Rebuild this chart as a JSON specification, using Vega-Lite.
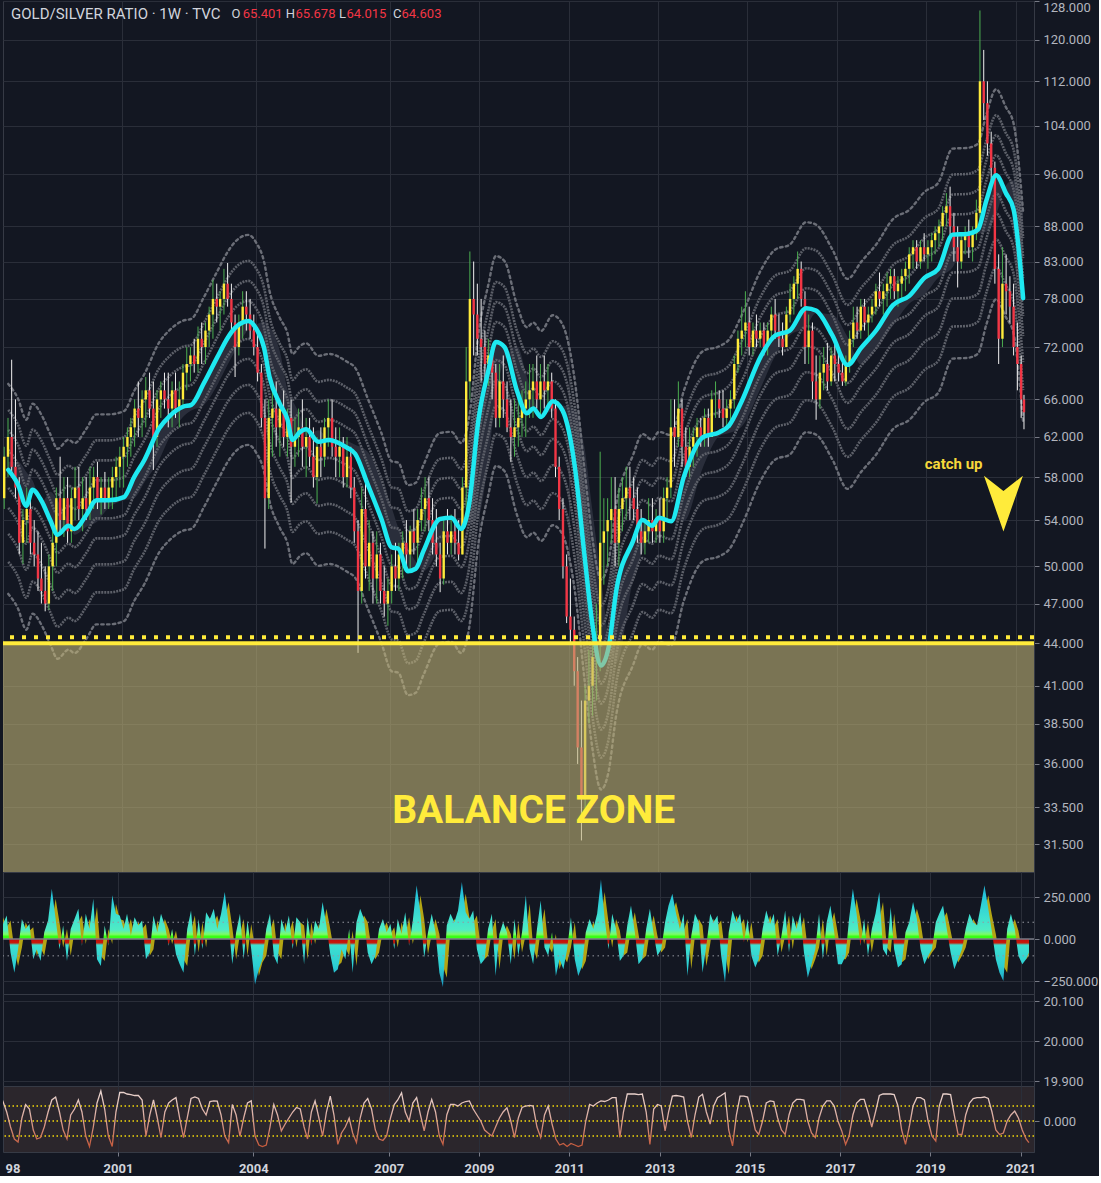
{
  "$schema": "https://vega.github.io/schema/vega-lite/v6.json",
  "description": "Gold/Silver ratio weekly chart with moving average envelope, balance zone and two oscillator panes.",
  "background": "#131722",
  "padding": 0,
  "spacing": 0,
  "bounds": "flush",
  "config": {
    "view": {"stroke": "#363a45"},
    "axis": {"labelColor": "#b2b5be", "labelFont": "Roboto", "labelFontSize": 13, "gridColor": "#2a2e39", "domainColor": "#363a45", "tickColor": "#787b86", "tickSize": 5, "labelPadding": 4},
    "text": {"font": "Roboto"}
  },
  "resolve": {"scale": {"x": "independent", "y": "independent"}},
  "datasets": {
    "one": [{}],
    "ma": [
      {"d":"1998-06-17","m":58.7,"s":59.5},{"d":"1998-09-04","m":57.3,"s":59.5},{"d":"1998-11-12","m":55.3,"s":58.5},
      {"d":"1999-01-01","m":56.8,"s":57.7},{"d":"1999-03-18","m":55.7,"s":55.6},{"d":"1999-05-26","m":54.0,"s":56.6},
      {"d":"1999-07-25","m":52.7,"s":55.8},{"d":"1999-10-22","m":53.5,"s":53.8},{"d":"1999-12-11","m":53.2,"s":52.7},
      {"d":"2000-03-18","m":54.5,"s":53.4},{"d":"2000-06-06","m":55.8,"s":53.8},{"d":"2000-09-14","m":55.8,"s":55.1},
      {"d":"2001-01-18","m":56.1,"s":55.8},{"d":"2001-04-11","m":58.0,"s":56.0},{"d":"2001-07-05","m":59.7,"s":57.5},
      {"d":"2001-11-02","m":62.9,"s":59.7},{"d":"2002-01-26","m":64.2,"s":62.0},{"d":"2002-05-15","m":65.2,"s":64.1},
      {"d":"2002-07-22","m":65.4,"s":64.8},{"d":"2002-11-02","m":67.8,"s":65.4},{"d":"2003-02-20","m":70.8,"s":67.6},
      {"d":"2003-05-15","m":73.1,"s":69.9},{"d":"2003-07-13","m":74.3,"s":71.5},{"d":"2003-11-02","m":75.2,"s":74.1},
      {"d":"2004-01-01","m":74.3,"s":74.7},{"d":"2004-03-08","m":71.9,"s":75.1},{"d":"2004-04-20","m":68.6,"s":74.5},
      {"d":"2004-07-15","m":65.5,"s":71.5},{"d":"2004-09-14","m":63.9,"s":67.2},{"d":"2004-10-26","m":61.7,"s":65.9},
      {"d":"2004-12-25","m":62.5,"s":64.3},{"d":"2005-02-15","m":62.8,"s":62.1},{"d":"2005-05-26","m":61.5,"s":62.7},
      {"d":"2005-08-21","m":61.7,"s":61.8},{"d":"2006-01-15","m":60.9,"s":61.6},{"d":"2006-03-22","m":60.3,"s":61.2},
      {"d":"2006-07-03","m":57.3,"s":60.5},{"d":"2006-10-23","m":54.1,"s":57.6},{"d":"2007-01-16","m":51.6,"s":55.1},
      {"d":"2007-03-10","m":51.5,"s":53.3},{"d":"2007-05-28","m":49.6,"s":51.6},{"d":"2007-07-30","m":49.8,"s":50.4},
      {"d":"2007-10-02","m":51.3,"s":49.6},{"d":"2008-02-14","m":54.1,"s":51.8},{"d":"2008-05-18","m":54.2,"s":53.9},
      {"d":"2008-08-05","m":53.2,"s":54.2},{"d":"2008-10-08","m":55.4,"s":53.7},{"d":"2008-12-25","m":63.9,"s":54.3},
      {"d":"2009-03-13","m":69.1,"s":59.5},{"d":"2009-05-15","m":72.6,"s":66.4},{"d":"2009-07-25","m":72.0,"s":70.4},
      {"d":"2009-11-05","m":66.9,"s":72.1},{"d":"2010-01-24","m":64.5,"s":68.5},{"d":"2010-03-17","m":65.0,"s":66.2},
      {"d":"2010-05-20","m":64.1,"s":64.5},{"d":"2010-08-23","m":65.8,"s":64.7},{"d":"2010-11-11","m":64.8,"s":65.3},
      {"d":"2011-02-21","m":58.9,"s":64.9},{"d":"2011-05-09","m":51.0,"s":61.0},{"d":"2011-07-12","m":45.5,"s":55.0},
      {"d":"2011-09-22","m":42.4,"s":49.0},{"d":"2011-11-23","m":43.7,"s":44.3},{"d":"2012-01-26","m":48.1,"s":42.6},
      {"d":"2012-06-08","m":52.1,"s":48.8},{"d":"2012-08-26","m":54.0,"s":51.2},{"d":"2012-11-13","m":53.5,"s":53.2},
      {"d":"2013-01-07","m":54.2,"s":53.8},{"d":"2013-04-18","m":53.9,"s":54.1},{"d":"2013-07-29","m":58.0,"s":53.9},
      {"d":"2014-01-04","m":62.0,"s":59.0},{"d":"2014-05-17","m":62.5,"s":62.1},{"d":"2014-08-04","m":63.2,"s":62.4},
      {"d":"2014-11-15","m":65.8,"s":63.1},{"d":"2015-04-20","m":70.9,"s":67.3},{"d":"2015-08-17","m":73.4,"s":71.0},
      {"d":"2015-12-13","m":74.0,"s":73.4},{"d":"2016-04-25","m":76.8,"s":74.5},{"d":"2016-07-14","m":76.5,"s":76.2},
      {"d":"2016-11-25","m":73.4,"s":76.0},{"d":"2017-03-29","m":69.9,"s":73.2},{"d":"2017-07-18","m":71.9,"s":69.9},
      {"d":"2017-11-22","m":74.1,"s":71.9},{"d":"2018-04-04","m":77.2,"s":74.6},{"d":"2018-08-16","m":78.4,"s":77.4},
      {"d":"2018-12-20","m":80.8,"s":78.6},{"d":"2019-04-09","m":82.0,"s":80.8},{"d":"2019-08-05","m":86.8,"s":82.2},
      {"d":"2019-12-02","m":86.9,"s":86.8},{"d":"2020-02-27","m":87.5,"s":86.9},{"d":"2020-05-07","m":91.9,"s":87.2},
      {"d":"2020-07-25","m":95.8,"s":89.7},{"d":"2020-10-13","m":93.0,"s":94.2},{"d":"2020-12-15","m":90.5,"s":95.0},
      {"d":"2021-03-03","m":78.1,"s":91.7}
    ],
    "bars": [
      {"d":"1998-01-15","o":56,"h":58,"l":54,"c":57,"w":-180,"k":-100,"r":-0.6},
      {"d":"1998-02-15","o":57,"h":59,"l":54,"c":55,"w":120,"k":-140,"r":-0.3},
      {"d":"1998-03-15","o":55,"h":58,"l":53.5,"c":57,"w":150,"k":100,"r":0.2},
      {"d":"1998-04-15","o":57,"h":60,"l":55,"c":56,"w":60,"k":120,"r":0.6},
      {"d":"1998-05-15","o":56,"h":61,"l":55,"c":60,"w":160,"k":50,"r":0.5},
      {"d":"1998-06-15","o":60,"h":64,"l":58,"c":62,"w":90,"k":130,"r":0.65},
      {"d":"1998-07-15","o":62,"h":70.5,"l":58,"c":59,"w":140,"k":70,"r":0.3},
      {"d":"1998-08-15","o":59,"h":66,"l":56,"c":57,"w":-80,"k":110,"r":-0.2},
      {"d":"1998-09-15","o":57,"h":58,"l":51,"c":52,"w":-200,"k":-60,"r":-0.6},
      {"d":"1998-10-15","o":52,"h":55,"l":50.2,"c":54,"w":-60,"k":-160,"r":-0.7},
      {"d":"1998-11-15","o":54,"h":57,"l":52,"c":55,"w":120,"k":-50,"r":0.1},
      {"d":"1998-12-15","o":55,"h":56,"l":51,"c":52,"w":60,"k":100,"r":0.55},
      {"d":"1999-01-15","o":52,"h":54,"l":50,"c":51,"w":90,"k":50,"r":0.4},
      {"d":"1999-02-15","o":51,"h":53,"l":48,"c":49,"w":-120,"k":70,"r":-0.3},
      {"d":"1999-03-15","o":49,"h":52,"l":47,"c":48,"w":-60,"k":-100,"r":-0.6},
      {"d":"1999-04-15","o":48,"h":50,"l":46.4,"c":47,"w":-130,"k":-50,"r":-0.55},
      {"d":"1999-05-15","o":47,"h":51,"l":46.5,"c":50,"w":40,"k":-100,"r":-0.2},
      {"d":"1999-06-15","o":50,"h":53,"l":48,"c":52,"w":110,"k":30,"r":0.3},
      {"d":"1999-07-15","o":52,"h":57,"l":50,"c":56,"w":300,"k":90,"r":0.7},
      {"d":"1999-08-15","o":56,"h":60,"l":53,"c":54,"w":120,"k":240,"r":0.8},
      {"d":"1999-09-15","o":54,"h":58,"l":52.5,"c":56,"w":-60,"k":100,"r":0.3},
      {"d":"1999-10-15","o":56,"h":58,"l":52,"c":53,"w":80,"k":-50,"r":-0.3},
      {"d":"1999-11-15","o":53,"h":57,"l":52,"c":56,"w":-130,"k":60,"r":-0.6},
      {"d":"1999-12-15","o":56,"h":59,"l":54,"c":57,"w":60,"k":-100,"r":0.2},
      {"d":"2000-01-15","o":57,"h":59,"l":54,"c":55,"w":120,"k":50,"r":0.4},
      {"d":"2000-02-15","o":55,"h":58,"l":53,"c":56,"w":180,"k":100,"r":0.7},
      {"d":"2000-03-15","o":56,"h":58,"l":54,"c":55,"w":-40,"k":140,"r":0.3},
      {"d":"2000-04-15","o":55,"h":59,"l":54,"c":57,"w":150,"k":-30,"r":-0.5},
      {"d":"2000-05-15","o":57,"h":59,"l":55,"c":58,"w":60,"k":120,"r":-0.85},
      {"d":"2000-06-15","o":58,"h":59.5,"l":55,"c":56,"w":240,"k":50,"r":-0.2},
      {"d":"2000-07-15","o":56,"h":58,"l":54.5,"c":57,"w":-120,"k":190,"r":0.6},
      {"d":"2000-08-15","o":57,"h":58.5,"l":55,"c":56,"w":-160,"k":-100,"r":1.0},
      {"d":"2000-09-15","o":56,"h":58,"l":55,"c":57,"w":80,"k":-130,"r":0.4},
      {"d":"2000-10-15","o":57,"h":59,"l":55,"c":58,"w":-40,"k":60,"r":-0.5},
      {"d":"2000-11-15","o":58,"h":60,"l":56,"c":59,"w":260,"k":-30,"r":-0.85},
      {"d":"2000-12-15","o":59,"h":61,"l":57,"c":60,"w":150,"k":210,"r":0.3},
      {"d":"2001-01-15","o":60,"h":62,"l":57,"c":61,"w":140,"k":120,"r":0.95},
      {"d":"2001-02-15","o":61,"h":63,"l":59,"c":62,"w":60,"k":110,"r":0.95},
      {"d":"2001-03-15","o":62,"h":64,"l":60,"c":63,"w":150,"k":50,"r":0.9},
      {"d":"2001-04-15","o":63,"h":66,"l":61,"c":65,"w":20,"k":120,"r":0.88},
      {"d":"2001-05-15","o":65,"h":68,"l":62,"c":64,"w":130,"k":20,"r":0.85},
      {"d":"2001-06-15","o":64,"h":67,"l":62,"c":66,"w":80,"k":100,"r":0.85},
      {"d":"2001-07-15","o":66,"h":68.5,"l":63,"c":67,"w":110,"k":60,"r":0.7},
      {"d":"2001-08-15","o":67,"h":69,"l":64,"c":65,"w":-120,"k":90,"r":-0.5},
      {"d":"2001-09-15","o":65,"h":68,"l":58.7,"c":62,"w":-80,"k":-100,"r":0.2},
      {"d":"2001-10-15","o":62,"h":67,"l":61,"c":66,"w":140,"k":-60,"r":0.7},
      {"d":"2001-11-15","o":66,"h":68,"l":64,"c":67,"w":40,"k":110,"r":0.1},
      {"d":"2001-12-15","o":67,"h":69,"l":65,"c":66,"w":150,"k":30,"r":-0.55},
      {"d":"2002-01-15","o":66,"h":69,"l":63,"c":65,"w":80,"k":120,"r":0.3},
      {"d":"2002-02-15","o":65,"h":68,"l":63,"c":67,"w":-40,"k":60,"r":0.6},
      {"d":"2002-03-15","o":67,"h":69,"l":64,"c":65,"w":60,"k":-30,"r":0.7},
      {"d":"2002-04-15","o":65,"h":68,"l":63,"c":66,"w":-90,"k":50,"r":0.78},
      {"d":"2002-05-15","o":66,"h":70,"l":65,"c":69,"w":-150,"k":-70,"r":0.1},
      {"d":"2002-06-15","o":69,"h":72,"l":67,"c":70,"w":-200,"k":-120,"r":-0.55},
      {"d":"2002-07-15","o":70,"h":72,"l":68,"c":71,"w":60,"k":-160,"r":0.1},
      {"d":"2002-08-15","o":71,"h":73,"l":69,"c":70,"w":170,"k":50,"r":0.75},
      {"d":"2002-09-15","o":70,"h":74.5,"l":69,"c":73,"w":-100,"k":140,"r":0.8},
      {"d":"2002-10-15","o":73,"h":75,"l":70,"c":72,"w":120,"k":-80,"r":0.75},
      {"d":"2002-11-15","o":72,"h":75,"l":70,"c":74,"w":-60,"k":100,"r":0.4},
      {"d":"2002-12-15","o":74,"h":77,"l":72,"c":76,"w":160,"k":-50,"r":0.2},
      {"d":"2003-01-15","o":76,"h":80.5,"l":73,"c":78,"w":120,"k":130,"r":0.65},
      {"d":"2003-02-15","o":78,"h":80,"l":75,"c":77,"w":180,"k":100,"r":0.67},
      {"d":"2003-03-15","o":77,"h":79,"l":74,"c":78,"w":60,"k":140,"r":0.66},
      {"d":"2003-04-15","o":78,"h":82,"l":76,"c":80,"w":150,"k":50,"r":0.2},
      {"d":"2003-05-15","o":80,"h":82.8,"l":77,"c":78,"w":280,"k":120,"r":-0.5},
      {"d":"2003-06-15","o":78,"h":80,"l":74,"c":75,"w":90,"k":220,"r":-0.72},
      {"d":"2003-07-15","o":75,"h":76,"l":68.5,"c":72,"w":-150,"k":70,"r":0.55},
      {"d":"2003-08-15","o":72,"h":76,"l":71,"c":75,"w":40,"k":-120,"r":0.2},
      {"d":"2003-09-15","o":75,"h":79,"l":73,"c":77,"w":150,"k":30,"r":-0.5},
      {"d":"2003-10-15","o":77,"h":79,"l":74,"c":76,"w":-120,"k":120,"r":0.1},
      {"d":"2003-11-15","o":76,"h":78,"l":73,"c":74,"w":110,"k":-100,"r":0.6},
      {"d":"2003-12-15","o":74,"h":76,"l":71,"c":72,"w":-60,"k":90,"r":0.67},
      {"d":"2004-01-15","o":72,"h":74,"l":68,"c":69,"w":-270,"k":-50,"r":-0.5},
      {"d":"2004-02-15","o":69,"h":70,"l":63,"c":64,"w":-180,"k":-220,"r":-0.8},
      {"d":"2004-03-15","o":64,"h":66,"l":51.5,"c":56,"w":-120,"k":-140,"r":-0.85},
      {"d":"2004-04-15","o":56,"h":66,"l":55,"c":64,"w":60,"k":-100,"r":-0.8},
      {"d":"2004-05-15","o":64,"h":68,"l":60,"c":65,"w":150,"k":50,"r":-0.2},
      {"d":"2004-06-15","o":65,"h":68,"l":61,"c":63,"w":-100,"k":120,"r":0.55},
      {"d":"2004-07-15","o":63,"h":66,"l":60,"c":65,"w":-150,"k":-80,"r":0.2},
      {"d":"2004-08-15","o":65,"h":67,"l":61,"c":62,"w":120,"k":-120,"r":-0.33},
      {"d":"2004-09-15","o":62,"h":65,"l":60,"c":64,"w":40,"k":100,"r":-0.1},
      {"d":"2004-10-15","o":64,"h":66,"l":55.6,"c":61,"w":140,"k":30,"r":0.1},
      {"d":"2004-11-15","o":61,"h":64,"l":59,"c":62,"w":-60,"k":110,"r":0.3},
      {"d":"2004-12-15","o":62,"h":65,"l":60,"c":63,"w":130,"k":-50,"r":0.45},
      {"d":"2005-01-15","o":63,"h":66,"l":59,"c":61,"w":100,"k":100,"r":0.4},
      {"d":"2005-02-15","o":61,"h":64,"l":58,"c":62,"w":-150,"k":80,"r":-0.2},
      {"d":"2005-03-15","o":62,"h":64,"l":59,"c":60,"w":130,"k":-120,"r":-0.6},
      {"d":"2005-04-15","o":60,"h":63,"l":57,"c":58,"w":-40,"k":100,"r":0.3},
      {"d":"2005-05-15","o":58,"h":62,"l":55.5,"c":61,"w":110,"k":-30,"r":0.67},
      {"d":"2005-06-15","o":61,"h":63,"l":58,"c":60,"w":60,"k":90,"r":0.1},
      {"d":"2005-07-15","o":60,"h":64,"l":59,"c":63,"w":220,"k":50,"r":-0.5},
      {"d":"2005-08-15","o":63,"h":66,"l":61,"c":64,"w":80,"k":180,"r":0.3},
      {"d":"2005-09-15","o":64,"h":66,"l":60,"c":61,"w":-90,"k":60,"r":0.83},
      {"d":"2005-10-15","o":61,"h":63,"l":58,"c":60,"w":-200,"k":-70,"r":0.2},
      {"d":"2005-11-15","o":60,"h":63,"l":58,"c":61,"w":-180,"k":-160,"r":-0.78},
      {"d":"2005-12-15","o":61,"h":62,"l":57,"c":58,"w":-60,"k":-140,"r":-0.4},
      {"d":"2006-01-15","o":58,"h":62,"l":57,"c":60,"w":-120,"k":-50,"r":-0.2},
      {"d":"2006-02-15","o":60,"h":61,"l":56,"c":57,"w":60,"k":-100,"r":0.1},
      {"d":"2006-03-15","o":57,"h":58,"l":52,"c":53,"w":-200,"k":50,"r":-0.4},
      {"d":"2006-04-15","o":53,"h":54,"l":43.3,"c":48,"w":100,"k":-160,"r":-0.72},
      {"d":"2006-05-15","o":48,"h":57,"l":47,"c":55,"w":180,"k":80,"r":0.1},
      {"d":"2006-06-15","o":55,"h":58,"l":49,"c":50,"w":120,"k":140,"r":0.6},
      {"d":"2006-07-15","o":50,"h":54,"l":48,"c":52,"w":-80,"k":100,"r":0.75},
      {"d":"2006-08-15","o":52,"h":53,"l":47,"c":49,"w":-150,"k":-60,"r":0.4},
      {"d":"2006-09-15","o":49,"h":53,"l":47,"c":51,"w":-100,"k":-120,"r":-0.3},
      {"d":"2006-10-15","o":51,"h":52,"l":47,"c":48,"w":60,"k":-80,"r":-0.6},
      {"d":"2006-11-15","o":48,"h":50,"l":46,"c":47,"w":120,"k":50,"r":-0.65},
      {"d":"2006-12-15","o":47,"h":49,"l":45.3,"c":48,"w":40,"k":100,"r":-0.5},
      {"d":"2007-01-15","o":48,"h":51,"l":47,"c":50,"w":90,"k":30,"r":0.1},
      {"d":"2007-02-15","o":50,"h":52,"l":48,"c":49,"w":-60,"k":70,"r":0.55},
      {"d":"2007-03-15","o":49,"h":52,"l":48,"c":51,"w":120,"k":-50,"r":0.7},
      {"d":"2007-04-15","o":51,"h":53,"l":49,"c":52,"w":30,"k":100,"r":0.94},
      {"d":"2007-05-15","o":52,"h":54,"l":50,"c":51,"w":160,"k":20,"r":0.3},
      {"d":"2007-06-15","o":51,"h":53.5,"l":49.5,"c":53,"w":-40,"k":130,"r":0.0},
      {"d":"2007-07-15","o":53,"h":55,"l":51,"c":52,"w":110,"k":-30,"r":0.6},
      {"d":"2007-08-15","o":52,"h":55,"l":50,"c":54,"w":320,"k":90,"r":0.78},
      {"d":"2007-09-15","o":54,"h":57,"l":53,"c":55,"w":150,"k":260,"r":0.2},
      {"d":"2007-10-15","o":55,"h":58,"l":53,"c":56,"w":-110,"k":120,"r":-0.33},
      {"d":"2007-11-15","o":56,"h":58,"l":53,"c":54,"w":40,"k":-90,"r":0.3},
      {"d":"2007-12-15","o":54,"h":56,"l":51,"c":52,"w":150,"k":30,"r":0.72},
      {"d":"2008-01-15","o":52,"h":55,"l":50,"c":51,"w":40,"k":120,"r":0.3},
      {"d":"2008-02-15","o":51,"h":52,"l":47.9,"c":49,"w":-200,"k":30,"r":-0.5},
      {"d":"2008-03-15","o":49,"h":54,"l":48.5,"c":53,"w":-285,"k":-160,"r":-0.78},
      {"d":"2008-04-15","o":53,"h":55,"l":51,"c":52,"w":80,"k":-230,"r":0.2},
      {"d":"2008-05-15","o":52,"h":54.5,"l":51,"c":53,"w":150,"k":60,"r":0.55},
      {"d":"2008-06-15","o":53,"h":55,"l":51,"c":52,"w":100,"k":120,"r":0.55},
      {"d":"2008-07-15","o":52,"h":54,"l":50.5,"c":51,"w":170,"k":80,"r":0.5},
      {"d":"2008-08-15","o":51,"h":58,"l":51,"c":57,"w":340,"k":140,"r":0.6},
      {"d":"2008-09-15","o":57,"h":72,"l":55,"c":68,"w":160,"k":270,"r":0.65},
      {"d":"2008-10-15","o":68,"h":84.4,"l":66,"c":78,"w":120,"k":130,"r":0.67},
      {"d":"2008-11-15","o":78,"h":83,"l":71,"c":76,"w":170,"k":100,"r":0.4},
      {"d":"2008-12-15","o":76,"h":80,"l":71,"c":73,"w":-60,"k":140,"r":0.2},
      {"d":"2009-01-15","o":73,"h":78,"l":68,"c":72,"w":-150,"k":-50,"r":0.0},
      {"d":"2009-02-15","o":72,"h":74,"l":68,"c":70,"w":-120,"k":-120,"r":-0.3},
      {"d":"2009-03-15","o":70,"h":73,"l":67.5,"c":71,"w":60,"k":-100,"r":-0.4},
      {"d":"2009-04-15","o":71,"h":72,"l":66,"c":69,"w":150,"k":50,"r":-0.5},
      {"d":"2009-05-15","o":69,"h":70,"l":63,"c":64,"w":-220,"k":120,"r":-0.2},
      {"d":"2009-06-15","o":64,"h":70,"l":63,"c":68,"w":30,"k":-180,"r":0.1},
      {"d":"2009-07-15","o":68,"h":71,"l":64,"c":66,"w":100,"k":20,"r":0.3},
      {"d":"2009-08-15","o":66,"h":68,"l":62.5,"c":63,"w":40,"k":80,"r":0.44},
      {"d":"2009-09-15","o":63,"h":66,"l":59.5,"c":62,"w":-150,"k":30,"r":0.0},
      {"d":"2009-10-15","o":62,"h":66,"l":60,"c":63,"w":120,"k":-120,"r":-0.55},
      {"d":"2009-11-15","o":63,"h":66,"l":61,"c":64,"w":-100,"k":100,"r":0.1},
      {"d":"2009-12-15","o":64,"h":67,"l":62,"c":65,"w":40,"k":-80,"r":0.45},
      {"d":"2010-01-15","o":65,"h":68,"l":62,"c":66,"w":260,"k":30,"r":0.5},
      {"d":"2010-02-15","o":66,"h":70,"l":64,"c":67,"w":-60,"k":210,"r":0.52},
      {"d":"2010-03-15","o":67,"h":70,"l":64,"c":68,"w":-150,"k":-50,"r":0.5},
      {"d":"2010-04-15","o":68,"h":71,"l":65,"c":66,"w":60,"k":-120,"r":-0.2},
      {"d":"2010-05-15","o":66,"h":70,"l":64,"c":68,"w":230,"k":50,"r":-0.55},
      {"d":"2010-06-15","o":68,"h":71,"l":65,"c":67,"w":-50,"k":180,"r":0.2},
      {"d":"2010-07-15","o":67,"h":70,"l":65,"c":68,"w":-100,"k":-40,"r":0.5},
      {"d":"2010-08-15","o":68,"h":69,"l":64,"c":65,"w":40,"k":-80,"r":-0.1},
      {"d":"2010-09-15","o":65,"h":66,"l":58,"c":59,"w":-220,"k":30,"r":-0.6},
      {"d":"2010-10-15","o":59,"h":60,"l":54,"c":55,"w":-120,"k":-180,"r":-0.8},
      {"d":"2010-11-15","o":55,"h":56,"l":49,"c":50,"w":-180,"k":-100,"r":-0.75},
      {"d":"2010-12-15","o":50,"h":51,"l":45.5,"c":46,"w":-60,"k":-140,"r":-0.85},
      {"d":"2011-01-15","o":46,"h":49,"l":44,"c":45,"w":130,"k":-50,"r":-0.75},
      {"d":"2011-02-15","o":45,"h":46,"l":41,"c":42,"w":-120,"k":100,"r":-0.8},
      {"d":"2011-03-15","o":42,"h":43,"l":36,"c":37,"w":-220,"k":-100,"r":-0.85},
      {"d":"2011-04-15","o":37,"h":40,"l":31.7,"c":34,"w":-160,"k":-180,"r":-0.8},
      {"d":"2011-05-15","o":34,"h":41,"l":33,"c":40,"w":40,"k":-130,"r":0.0},
      {"d":"2011-06-15","o":40,"h":43.5,"l":38.5,"c":41,"w":120,"k":30,"r":0.55},
      {"d":"2011-07-15","o":41,"h":45,"l":39,"c":43,"w":60,"k":100,"r":0.5},
      {"d":"2011-08-15","o":43,"h":47,"l":40,"c":44,"w":150,"k":50,"r":0.6},
      {"d":"2011-09-15","o":44,"h":60.5,"l":42,"c":52,"w":355,"k":120,"r":0.67},
      {"d":"2011-10-15","o":52,"h":56,"l":48.5,"c":53,"w":120,"k":280,"r":0.65},
      {"d":"2011-11-15","o":53,"h":56,"l":50,"c":54,"w":-60,"k":100,"r":0.7},
      {"d":"2011-12-15","o":54,"h":58,"l":52,"c":55,"w":150,"k":-50,"r":0.78},
      {"d":"2012-01-15","o":55,"h":58,"l":50,"c":52,"w":60,"k":120,"r":0.78},
      {"d":"2012-02-15","o":52,"h":57,"l":50,"c":55,"w":-130,"k":50,"r":-0.55},
      {"d":"2012-03-15","o":55,"h":58,"l":53,"c":56,"w":-100,"k":-100,"r":0.3},
      {"d":"2012-04-15","o":56,"h":59,"l":54,"c":57,"w":80,"k":-80,"r":0.9},
      {"d":"2012-05-15","o":57,"h":59,"l":54,"c":56,"w":200,"k":60,"r":0.9},
      {"d":"2012-06-15","o":56,"h":58,"l":54,"c":55,"w":40,"k":160,"r":0.9},
      {"d":"2012-07-15","o":55,"h":57,"l":52,"c":53,"w":-150,"k":30,"r":0.88},
      {"d":"2012-08-15","o":53,"h":55,"l":51,"c":52,"w":-120,"k":-120,"r":0.9},
      {"d":"2012-09-15","o":52,"h":54,"l":51,"c":53,"w":60,"k":-100,"r":0.3},
      {"d":"2012-10-15","o":53,"h":56,"l":52,"c":54,"w":180,"k":50,"r":-0.78},
      {"d":"2012-11-15","o":54,"h":56,"l":52,"c":53,"w":30,"k":140,"r":0.4},
      {"d":"2012-12-15","o":53,"h":55,"l":52,"c":54,"w":-100,"k":20,"r":0.55},
      {"d":"2013-01-15","o":54,"h":56,"l":52,"c":53,"w":-60,"k":-80,"r":0.5},
      {"d":"2013-02-15","o":53,"h":57,"l":52,"c":56,"w":100,"k":-50,"r":-0.33},
      {"d":"2013-03-15","o":56,"h":58,"l":54,"c":57,"w":200,"k":80,"r":0.3},
      {"d":"2013-04-15","o":57,"h":66,"l":56,"c":63,"w":270,"k":160,"r":0.83},
      {"d":"2013-05-15","o":63,"h":66,"l":59,"c":62,"w":150,"k":220,"r":0.85},
      {"d":"2013-06-15","o":62,"h":68,"l":61,"c":65,"w":60,"k":120,"r":0.83},
      {"d":"2013-07-15","o":65,"h":66,"l":59,"c":61,"w":150,"k":50,"r":0.8},
      {"d":"2013-08-15","o":61,"h":63,"l":58,"c":59,"w":-220,"k":120,"r":0.0},
      {"d":"2013-09-15","o":59,"h":63,"l":58,"c":61,"w":20,"k":-180,"r":-0.55},
      {"d":"2013-10-15","o":61,"h":63,"l":59,"c":62,"w":150,"k":20,"r":0.2},
      {"d":"2013-11-15","o":62,"h":64,"l":60,"c":63,"w":100,"k":120,"r":0.8},
      {"d":"2013-12-15","o":63,"h":64,"l":61,"c":62,"w":-200,"k":80,"r":0.89},
      {"d":"2014-01-15","o":62,"h":65,"l":61,"c":64,"w":-40,"k":-160,"r":0.3},
      {"d":"2014-02-15","o":64,"h":65,"l":61,"c":62,"w":150,"k":-30,"r":-0.1},
      {"d":"2014-03-15","o":62,"h":67,"l":62,"c":66,"w":100,"k":120,"r":0.5},
      {"d":"2014-04-15","o":66,"h":68,"l":64,"c":66,"w":140,"k":80,"r":0.78},
      {"d":"2014-05-15","o":66,"h":67,"l":64,"c":65,"w":-100,"k":110,"r":0.85},
      {"d":"2014-06-15","o":65,"h":67,"l":63,"c":64,"w":-260,"k":-80,"r":0.94},
      {"d":"2014-07-15","o":64,"h":66,"l":63,"c":65,"w":40,"k":-210,"r":-0.3},
      {"d":"2014-08-15","o":65,"h":67,"l":63,"c":66,"w":170,"k":30,"r":-0.83},
      {"d":"2014-09-15","o":66,"h":71,"l":65,"c":70,"w":100,"k":140,"r":0.2},
      {"d":"2014-10-15","o":70,"h":74,"l":69,"c":73,"w":150,"k":80,"r":0.83},
      {"d":"2014-11-15","o":73,"h":77,"l":71,"c":74,"w":-20,"k":120,"r":0.83},
      {"d":"2014-12-15","o":74,"h":79,"l":72,"c":75,"w":120,"k":-20,"r":0.8},
      {"d":"2015-01-15","o":75,"h":77,"l":71,"c":72,"w":-100,"k":100,"r":0.3},
      {"d":"2015-02-15","o":72,"h":75,"l":71,"c":74,"w":-170,"k":-80,"r":-0.3},
      {"d":"2015-03-15","o":74,"h":76,"l":72,"c":73,"w":-120,"k":-140,"r":-0.45},
      {"d":"2015-04-15","o":73,"h":75,"l":72,"c":74,"w":60,"k":-100,"r":0.0},
      {"d":"2015-05-15","o":74,"h":75,"l":71,"c":72,"w":170,"k":50,"r":0.6},
      {"d":"2015-06-15","o":72,"h":75,"l":71,"c":74,"w":90,"k":140,"r":0.67},
      {"d":"2015-07-15","o":74,"h":77,"l":73,"c":76,"w":150,"k":70,"r":0.65},
      {"d":"2015-08-15","o":76,"h":78,"l":73,"c":74,"w":-100,"k":120,"r":0.1},
      {"d":"2015-09-15","o":74,"h":76,"l":72,"c":73,"w":20,"k":-80,"r":-0.3},
      {"d":"2015-10-15","o":73,"h":75,"l":71,"c":72,"w":170,"k":20,"r":-0.45},
      {"d":"2015-11-15","o":72,"h":77,"l":72,"c":76,"w":-80,"k":140,"r":0.2},
      {"d":"2015-12-15","o":76,"h":80,"l":75,"c":78,"w":140,"k":-60,"r":0.6},
      {"d":"2016-01-15","o":78,"h":81,"l":76,"c":80,"w":60,"k":110,"r":0.72},
      {"d":"2016-02-15","o":80,"h":84.4,"l":78,"c":82,"w":160,"k":50,"r":0.72},
      {"d":"2016-03-15","o":82,"h":83,"l":77,"c":78,"w":-80,"k":130,"r":0.7},
      {"d":"2016-04-15","o":78,"h":79,"l":70,"c":72,"w":-230,"k":-60,"r":0.0},
      {"d":"2016-05-15","o":72,"h":76,"l":70,"c":74,"w":-150,"k":-180,"r":-0.4},
      {"d":"2016-06-15","o":74,"h":75,"l":66,"c":68,"w":-60,"k":-120,"r":-0.55},
      {"d":"2016-07-15","o":68,"h":71,"l":63.8,"c":66,"w":150,"k":-50,"r":0.1},
      {"d":"2016-08-15","o":66,"h":71,"l":65,"c":69,"w":-120,"k":120,"r":0.5},
      {"d":"2016-09-15","o":69,"h":72,"l":67,"c":70,"w":100,"k":-100,"r":0.67},
      {"d":"2016-10-15","o":70,"h":72.5,"l":67,"c":68,"w":200,"k":80,"r":0.67},
      {"d":"2016-11-15","o":68,"h":72,"l":67.5,"c":71,"w":40,"k":160,"r":0.5},
      {"d":"2016-12-15","o":71,"h":73,"l":68,"c":70,"w":-150,"k":30,"r":0.0},
      {"d":"2017-01-15","o":70,"h":72,"l":68,"c":69,"w":-150,"k":-120,"r":-0.33},
      {"d":"2017-02-15","o":69,"h":71,"l":67.5,"c":68,"w":-100,"k":-120,"r":-0.78},
      {"d":"2017-03-15","o":68,"h":71,"l":67.5,"c":70,"w":120,"k":-80,"r":-0.5},
      {"d":"2017-04-15","o":70,"h":74,"l":69,"c":73,"w":300,"k":100,"r":0.2},
      {"d":"2017-05-15","o":73,"h":77,"l":72,"c":75,"w":150,"k":240,"r":0.6},
      {"d":"2017-06-15","o":75,"h":77,"l":73,"c":74,"w":-40,"k":120,"r":0.72},
      {"d":"2017-07-15","o":74,"h":78,"l":73,"c":77,"w":120,"k":-30,"r":0.72},
      {"d":"2017-08-15","o":77,"h":78,"l":74,"c":75,"w":-100,"k":100,"r":0.3},
      {"d":"2017-09-15","o":75,"h":77,"l":73,"c":76,"w":60,"k":-80,"r":-0.2},
      {"d":"2017-10-15","o":76,"h":78,"l":75,"c":77,"w":150,"k":50,"r":0.3},
      {"d":"2017-11-15","o":77,"h":80,"l":76,"c":79,"w":280,"k":120,"r":0.85},
      {"d":"2017-12-15","o":79,"h":81.5,"l":77,"c":78,"w":-60,"k":220,"r":0.9},
      {"d":"2018-01-15","o":78,"h":80,"l":76,"c":79,"w":-100,"k":-50,"r":0.9},
      {"d":"2018-02-15","o":79,"h":81.5,"l":77,"c":80,"w":190,"k":-80,"r":0.9},
      {"d":"2018-03-15","o":80,"h":82,"l":78,"c":81,"w":-60,"k":150,"r":0.88},
      {"d":"2018-04-15","o":81,"h":82,"l":78,"c":79,"w":-170,"k":-50,"r":0.5},
      {"d":"2018-05-15","o":79,"h":81,"l":77,"c":80,"w":-150,"k":-140,"r":-0.3},
      {"d":"2018-06-15","o":80,"h":82,"l":78,"c":81,"w":40,"k":-120,"r":-0.78},
      {"d":"2018-07-15","o":81,"h":83,"l":79,"c":82,"w":100,"k":30,"r":-0.2},
      {"d":"2018-08-15","o":82,"h":85,"l":80,"c":84,"w":220,"k":80,"r":0.5},
      {"d":"2018-09-15","o":84,"h":86,"l":82,"c":85,"w":120,"k":180,"r":0.78},
      {"d":"2018-10-15","o":85,"h":86,"l":82,"c":83,"w":-60,"k":100,"r":0.78},
      {"d":"2018-11-15","o":83,"h":86,"l":82,"c":85,"w":-150,"k":-50,"r":0.7},
      {"d":"2018-12-15","o":85,"h":87,"l":83,"c":84,"w":-100,"k":-120,"r":0.0},
      {"d":"2019-01-15","o":84,"h":86,"l":82,"c":85,"w":-60,"k":-80,"r":-0.5},
      {"d":"2019-02-15","o":85,"h":87,"l":83,"c":86,"w":100,"k":-50,"r":-0.67},
      {"d":"2019-03-15","o":86,"h":88,"l":84,"c":87,"w":150,"k":80,"r":0.5},
      {"d":"2019-04-15","o":87,"h":89,"l":85,"c":88,"w":200,"k":120,"r":0.9},
      {"d":"2019-05-15","o":88,"h":91,"l":86,"c":90,"w":60,"k":160,"r":0.9},
      {"d":"2019-06-15","o":90,"h":93,"l":88,"c":91,"w":-80,"k":50,"r":0.88},
      {"d":"2019-07-15","o":91,"h":94,"l":86,"c":88,"w":-180,"k":-60,"r":0.2},
      {"d":"2019-08-15","o":88,"h":90,"l":83,"c":85,"w":-120,"k":-140,"r":-0.45},
      {"d":"2019-09-15","o":85,"h":88,"l":79.5,"c":83,"w":-60,"k":-100,"r":-0.45},
      {"d":"2019-10-15","o":83,"h":87,"l":82,"c":86,"w":60,"k":-50,"r":0.2},
      {"d":"2019-11-15","o":86,"h":88,"l":84,"c":87,"w":150,"k":50,"r":0.6},
      {"d":"2019-12-15","o":87,"h":89,"l":83.5,"c":85,"w":100,"k":120,"r":0.75},
      {"d":"2020-01-15","o":85,"h":88,"l":83,"c":87,"w":80,"k":80,"r":0.78},
      {"d":"2020-02-15","o":87,"h":92,"l":86,"c":90,"w":200,"k":60,"r":0.78},
      {"d":"2020-03-15","o":90,"h":126,"l":88,"c":112,"w":320,"k":160,"r":0.8},
      {"d":"2020-04-15","o":112,"h":118,"l":105,"c":108,"w":180,"k":260,"r":0.75},
      {"d":"2020-05-15","o":108,"h":112,"l":99,"c":101,"w":40,"k":140,"r":0.3},
      {"d":"2020-06-15","o":101,"h":103,"l":95,"c":97,"w":-120,"k":30,"r":-0.3},
      {"d":"2020-07-15","o":97,"h":98,"l":80,"c":82,"w":-200,"k":-100,"r":-0.45},
      {"d":"2020-08-15","o":82,"h":84,"l":70,"c":73,"w":-250,"k":-160,"r":-0.4},
      {"d":"2020-09-15","o":73,"h":85,"l":72,"c":80,"w":60,"k":-200,"r":0.0},
      {"d":"2020-10-15","o":80,"h":84,"l":76,"c":79,"w":150,"k":50,"r":0.2},
      {"d":"2020-11-15","o":79,"h":81,"l":75,"c":77,"w":60,"k":120,"r":0.33},
      {"d":"2020-12-15","o":77,"h":80,"l":71,"c":72,"w":-100,"k":50,"r":0.1},
      {"d":"2021-01-15","o":72,"h":75,"l":67,"c":70,"w":-150,"k":-80,"r":-0.3},
      {"d":"2021-02-15","o":70,"h":71,"l":64,"c":66,"w":-120,"k":-120,"r":-0.6},
      {"d":"2021-03-10","o":66,"h":66.5,"l":62.8,"c":64.6,"w":-80,"k":-100,"r":-0.72}
    ]
  },
  "vconcat": [
    {
      "width": 1031,
      "height": 871,
      "layer": [
        {
          "data": {"name": "ma"},
          "mark": {"type": "area", "color": "#2a2e3b", "interpolate": "monotone", "clip": true},
          "encoding": {
            "x": {"field": "d", "type": "temporal", "title": null,
              "scale": {"type": "time", "nice": false, "domain": [{"year": 1998, "month": 6, "date": 15}, {"year": 2021, "month": 4, "date": 20}]},
              "axis": {"title": null, "labels": false, "ticks": false, "domain": false, "grid": true,
                "values": [{"year": 2001}, {"year": 2004}, {"year": 2007}, {"year": 2009}, {"year": 2011}, {"year": 2013}, {"year": 2015}, {"year": 2017}, {"year": 2019}, {"year": 2021}]}},
            "y": {"field": "m", "type": "quantitative", "title": null,
              "scale": {"type": "log", "domain": [30.08, 128], "nice": false, "zero": false},
              "axis": {"title": null, "orient": "right", "format": ".3f", "labelFlush": true, "grid": true,
                "values": [31.5, 33.5, 36, 38.5, 41, 44, 47, 50, 54, 58, 62, 66, 72, 78, 83, 88, 96, 104, 112, 120, 128]}},
            "y2": {"field": "s"}
          }
        },
        {"data": {"name": "ma"}, "mark": {"type": "line", "clip": true, "interpolate": "monotone", "yOffset": -86, "color": "#6b6e77", "strokeWidth": 2.4, "strokeDash": [2.4, 3.4], "strokeCap": "round"},
         "encoding": {"x": {"field": "d", "type": "temporal", "title": null}, "y": {"field": "m", "type": "quantitative", "title": null}}},
        {"data": {"name": "ma"}, "mark": {"type": "line", "clip": true, "interpolate": "monotone", "yOffset": -60, "color": "#5d6069", "strokeWidth": 2.6, "strokeDash": [2, 1]},
         "encoding": {"x": {"field": "d", "type": "temporal", "title": null}, "y": {"field": "m", "type": "quantitative", "title": null}}},
        {"data": {"name": "ma"}, "mark": {"type": "line", "clip": true, "interpolate": "monotone", "yOffset": -40, "color": "#5d6069", "strokeWidth": 2.6, "strokeDash": [2, 1]},
         "encoding": {"x": {"field": "d", "type": "temporal", "title": null}, "y": {"field": "m", "type": "quantitative", "title": null}}},
        {"data": {"name": "ma"}, "mark": {"type": "line", "clip": true, "interpolate": "monotone", "yOffset": -20, "color": "#5d6069", "strokeWidth": 2.6, "strokeDash": [2, 1]},
         "encoding": {"x": {"field": "d", "type": "temporal", "title": null}, "y": {"field": "m", "type": "quantitative", "title": null}}},
        {"data": {"name": "ma"}, "mark": {"type": "line", "clip": true, "interpolate": "monotone", "yOffset": 18, "color": "#5d6069", "strokeWidth": 2.6, "strokeDash": [2, 1]},
         "encoding": {"x": {"field": "d", "type": "temporal", "title": null}, "y": {"field": "m", "type": "quantitative", "title": null}}},
        {"data": {"name": "ma"}, "mark": {"type": "line", "clip": true, "interpolate": "monotone", "yOffset": 38, "color": "#5d6069", "strokeWidth": 2.6, "strokeDash": [2, 1]},
         "encoding": {"x": {"field": "d", "type": "temporal", "title": null}, "y": {"field": "m", "type": "quantitative", "title": null}}},
        {"data": {"name": "ma"}, "mark": {"type": "line", "clip": true, "interpolate": "monotone", "yOffset": 64, "color": "#5d6069", "strokeWidth": 2.6, "strokeDash": [2, 1]},
         "encoding": {"x": {"field": "d", "type": "temporal", "title": null}, "y": {"field": "m", "type": "quantitative", "title": null}}},
        {"data": {"name": "ma"}, "mark": {"type": "line", "clip": true, "interpolate": "monotone", "yOffset": 92, "color": "#5d6069", "strokeWidth": 2.6, "strokeDash": [2, 1]},
         "encoding": {"x": {"field": "d", "type": "temporal", "title": null}, "y": {"field": "m", "type": "quantitative", "title": null}}},
        {"data": {"name": "ma"}, "mark": {"type": "line", "clip": true, "interpolate": "monotone", "yOffset": 124, "color": "#6b6e77", "strokeWidth": 2.4, "strokeDash": [2.4, 3.4], "strokeCap": "round"},
         "encoding": {"x": {"field": "d", "type": "temporal", "title": null}, "y": {"field": "m", "type": "quantitative", "title": null}}},
        {
          "data": {"name": "bars"},
          "mark": {"type": "rule", "strokeWidth": 1, "clip": true},
          "encoding": {
            "x": {"field": "d", "type": "temporal", "title": null},
            "y": {"field": "l", "type": "quantitative", "title": null},
            "y2": {"field": "h"},
            "color": {"condition": {"test": "datum.c >= datum.o", "value": "#4caf50"}, "value": "#f0f0f0"}
          }
        },
        {
          "data": {"name": "bars"},
          "mark": {"type": "bar", "width": 2.4, "clip": true},
          "encoding": {
            "x": {"field": "d", "type": "temporal", "title": null},
            "y": {"field": "o", "type": "quantitative", "title": null},
            "y2": {"field": "c"},
            "color": {"condition": {"test": "datum.c >= datum.o", "value": "#ffeb3b"}, "value": "#f23645"}
          }
        },
        {"data": {"name": "ma"}, "mark": {"type": "line", "clip": true, "interpolate": "monotone", "color": "#1ee9f1", "strokeWidth": 4.5, "strokeCap": "round"},
         "encoding": {"x": {"field": "d", "type": "temporal", "title": null}, "y": {"field": "m", "type": "quantitative", "title": null}}},
        {
          "data": {"name": "one"},
          "mark": {"type": "rect", "color": "#bfb277", "opacity": 0.6, "clip": true},
          "encoding": {
            "x": {"datum": {"year": 1997, "month": 6, "date": 1}, "type": "temporal", "title": null},
            "x2": {"datum": {"year": 2022, "month": 1, "date": 1}},
            "y": {"datum": 44, "type": "quantitative", "title": null},
            "y2": {"datum": 29}
          }
        },
        {"data": {"name": "one"}, "mark": {"type": "rule", "color": "#ffeb3b", "strokeWidth": 4, "strokeDash": [4, 8]},
         "encoding": {"y": {"datum": 44.45, "type": "quantitative", "title": null}}},
        {"data": {"name": "one"}, "mark": {"type": "rule", "color": "#ffeb3b", "strokeWidth": 4},
         "encoding": {"y": {"datum": 44, "type": "quantitative", "title": null}}},
        {"data": {"name": "one"}, "mark": {"type": "text", "align": "center", "baseline": "middle", "fontSize": 39, "fontWeight": "bold", "color": "#ffeb3b"},
         "encoding": {"x": {"datum": {"year": 2010, "month": 3, "date": 20}, "type": "temporal", "title": null}, "y": {"datum": 33.29, "type": "quantitative", "title": null}, "text": {"value": "BALANCE ZONE"}}},
        {"data": {"name": "one"}, "mark": {"type": "text", "align": "center", "baseline": "middle", "fontSize": 15, "fontWeight": "bold", "color": "#f7d83b"},
         "encoding": {"x": {"datum": {"year": 2019, "month": 8, "date": 13}, "type": "temporal", "title": null}, "y": {"datum": 59.24, "type": "quantitative", "title": null}, "text": {"value": "catch up"}}},
        {"data": {"name": "one"}, "mark": {"type": "point", "shape": "M-0.7,-1L0,-0.45L0.7,-1L0,1Z", "filled": true, "color": "#ffeb3b", "opacity": 1, "size": 3100, "strokeWidth": 0},
         "encoding": {"x": {"datum": {"year": 2020, "month": 9, "date": 23}, "type": "temporal", "title": null}, "y": {"datum": 55.5, "type": "quantitative", "title": null}}},
        {"data": {"name": "one"}, "mark": {"type": "text", "align": "left", "baseline": "middle", "fontSize": 15, "color": "#d1d4dc"},
         "encoding": {"x": {"datum": {"year": 1998, "month": 7, "date": 10}, "type": "temporal", "title": null}, "y": {"datum": 125.3, "type": "quantitative", "title": null}, "text": {"value": "GOLD/SILVER RATIO · 1W · TVC"}}},
        {"data": {"name": "one"}, "mark": {"type": "text", "align": "left", "baseline": "middle", "fontSize": 13, "color": "#d1d4dc"},
         "encoding": {"x": {"datum": {"year": 2003, "month": 6, "date": 15}, "type": "temporal", "title": null}, "y": {"datum": 125.3, "type": "quantitative", "title": null}, "text": {"value": "O"}}},
        {"data": {"name": "one"}, "mark": {"type": "text", "align": "left", "baseline": "middle", "fontSize": 13, "color": "#f23645"},
         "encoding": {"x": {"datum": {"year": 2003, "month": 9, "date": 15}, "type": "temporal", "title": null}, "y": {"datum": 125.3, "type": "quantitative", "title": null}, "text": {"value": "65.401"}}},
        {"data": {"name": "one"}, "mark": {"type": "text", "align": "left", "baseline": "middle", "fontSize": 13, "color": "#d1d4dc"},
         "encoding": {"x": {"datum": {"year": 2004, "month": 9, "date": 1}, "type": "temporal", "title": null}, "y": {"datum": 125.3, "type": "quantitative", "title": null}, "text": {"value": "H"}}},
        {"data": {"name": "one"}, "mark": {"type": "text", "align": "left", "baseline": "middle", "fontSize": 13, "color": "#f23645"},
         "encoding": {"x": {"datum": {"year": 2004, "month": 11, "date": 20}, "type": "temporal", "title": null}, "y": {"datum": 125.3, "type": "quantitative", "title": null}, "text": {"value": "65.678"}}},
        {"data": {"name": "one"}, "mark": {"type": "text", "align": "left", "baseline": "middle", "fontSize": 13, "color": "#d1d4dc"},
         "encoding": {"x": {"datum": {"year": 2005, "month": 11, "date": 10}, "type": "temporal", "title": null}, "y": {"datum": 125.3, "type": "quantitative", "title": null}, "text": {"value": "L"}}},
        {"data": {"name": "one"}, "mark": {"type": "text", "align": "left", "baseline": "middle", "fontSize": 13, "color": "#f23645"},
         "encoding": {"x": {"datum": {"year": 2006, "month": 1, "date": 10}, "type": "temporal", "title": null}, "y": {"datum": 125.3, "type": "quantitative", "title": null}, "text": {"value": "64.015"}}},
        {"data": {"name": "one"}, "mark": {"type": "text", "align": "left", "baseline": "middle", "fontSize": 13, "color": "#d1d4dc"},
         "encoding": {"x": {"datum": {"year": 2007, "month": 1, "date": 25}, "type": "temporal", "title": null}, "y": {"datum": 125.3, "type": "quantitative", "title": null}, "text": {"value": "C"}}},
        {"data": {"name": "one"}, "mark": {"type": "text", "align": "left", "baseline": "middle", "fontSize": 13, "color": "#f23645"},
         "encoding": {"x": {"datum": {"year": 2007, "month": 4, "date": 5}, "type": "temporal", "title": null}, "y": {"datum": 125.3, "type": "quantitative", "title": null}, "text": {"value": "64.603"}}}
      ]
    },
    {
      "width": 1031,
      "height": 122,
      "layer": [
        {
          "data": {"name": "bars"},
          "mark": {"type": "area", "color": "#b3a514", "clip": true},
          "encoding": {
            "x": {"field": "d", "type": "temporal", "title": null,
              "scale": {"type": "time", "nice": false, "domain": [{"year": 1998, "month": 6, "date": 15}, {"year": 2021, "month": 4, "date": 20}]},
              "axis": {"title": null, "labels": false, "ticks": false, "domain": false, "grid": true,
                "values": [{"year": 2001}, {"year": 2004}, {"year": 2007}, {"year": 2009}, {"year": 2011}, {"year": 2013}, {"year": 2015}, {"year": 2017}, {"year": 2019}, {"year": 2021}]}},
            "y": {"field": "k", "type": "quantitative", "title": null,
              "scale": {"domain": [-327, 399], "nice": false, "zero": false},
              "axis": {"title": null, "orient": "right", "format": ".3f", "grid": true, "values": [250, 0, -250]}}
          }
        },
        {
          "data": {"name": "bars"},
          "mark": {"type": "area", "clip": true, "color": {"gradient": "linear", "x1": 0, "y1": 0, "x2": 0, "y2": 1,
            "stops": [
              {"offset": 0, "color": "#1d9ec4"}, {"offset": 0.15, "color": "#26c6da"}, {"offset": 0.35, "color": "#3fe0d0"},
              {"offset": 0.47, "color": "#50ecc4"}, {"offset": 0.51, "color": "#7dfc6a"}, {"offset": 0.53, "color": "#39ff14"},
              {"offset": 0.555, "color": "#39ff14"}, {"offset": 0.557, "color": "#c10c0c"}, {"offset": 0.59, "color": "#c81a0a"},
              {"offset": 0.61, "color": "#3fe0d0"}, {"offset": 0.8, "color": "#2ccfd3"}, {"offset": 1, "color": "#1a98c2"}
            ]}},
          "encoding": {
            "x": {"field": "d", "type": "temporal", "title": null},
            "y": {"field": "w", "type": "quantitative", "title": null}
          }
        },
        {"data": {"name": "one"}, "mark": {"type": "rule", "color": "#787b86", "strokeWidth": 1.5},
         "encoding": {"y": {"datum": 0, "type": "quantitative", "title": null}}},
        {"data": {"name": "one"}, "mark": {"type": "rule", "color": "#9598a1", "strokeWidth": 1, "strokeDash": [1.5, 3.5]},
         "encoding": {"y": {"datum": 100, "type": "quantitative", "title": null}}},
        {"data": {"name": "one"}, "mark": {"type": "rule", "color": "#9598a1", "strokeWidth": 1, "strokeDash": [1.5, 3.5]},
         "encoding": {"y": {"datum": -100, "type": "quantitative", "title": null}}}
      ]
    },
    {
      "width": 1031,
      "height": 92,
      "layer": [
        {
          "data": {"name": "bars"},
          "mark": {"type": "point", "opacity": 0, "clip": true},
          "encoding": {
            "x": {"field": "d", "type": "temporal", "title": null,
              "scale": {"type": "time", "nice": false, "domain": [{"year": 1998, "month": 6, "date": 15}, {"year": 2021, "month": 4, "date": 20}]},
              "axis": {"title": null, "labels": false, "ticks": false, "domain": false, "grid": true,
                "values": [{"year": 2001}, {"year": 2004}, {"year": 2007}, {"year": 2009}, {"year": 2011}, {"year": 2013}, {"year": 2015}, {"year": 2017}, {"year": 2019}, {"year": 2021}]}},
            "y": {"datum": 20, "type": "quantitative", "title": null,
              "scale": {"domain": [19.8875, 20.1175], "nice": false, "zero": false},
              "axis": {"title": null, "orient": "right", "format": ".3f", "grid": true, "values": [19.9, 20, 20.1]}}
          }
        }
      ]
    },
    {
      "width": 1031,
      "height": 66,
      "view": {"fill": "#2b262c", "stroke": "#363a45"},
      "layer": [
        {"data": {"name": "one"}, "mark": {"type": "rule", "color": "#f5d90a", "strokeWidth": 1.4, "strokeDash": [1.5, 2.5]},
         "encoding": {"y": {"datum": 0.5, "type": "quantitative", "title": null,
           "scale": {"domain": [-1.033, 1.167], "nice": false, "zero": false},
           "axis": {"title": null, "orient": "right", "format": ".3f", "grid": false, "values": [0]}}}},
        {"data": {"name": "one"}, "mark": {"type": "rule", "color": "#f5d90a", "strokeWidth": 1.4, "strokeDash": [1.5, 2.5]},
         "encoding": {"y": {"datum": 0, "type": "quantitative", "title": null}}},
        {"data": {"name": "one"}, "mark": {"type": "rule", "color": "#f5d90a", "strokeWidth": 1.4, "strokeDash": [1.5, 2.5]},
         "encoding": {"y": {"datum": -0.5, "type": "quantitative", "title": null}}},
        {
          "data": {"name": "bars"},
          "mark": {"type": "line", "strokeWidth": 1.3, "clip": true,
            "color": {"gradient": "linear", "x1": 0, "y1": 0, "x2": 0, "y2": 1,
              "stops": [{"offset": 0, "color": "#ead5d0"}, {"offset": 0.45, "color": "#dcaea3"}, {"offset": 1, "color": "#c4593b"}]}},
          "encoding": {
            "x": {"field": "d", "type": "temporal", "title": null,
              "scale": {"type": "time", "nice": false, "domain": [{"year": 1998, "month": 6, "date": 15}, {"year": 2021, "month": 4, "date": 20}]},
              "axis": {"title": null, "orient": "bottom", "grid": true, "domain": false, "ticks": true, "tickSize": 4, "labelPadding": 6,
                "labelColor": "#d1d4dc", "labelFontWeight": "bold", "labelFontSize": 13,
                "labelExpr": "year(datum.value) == 1998 ? '98' : timeFormat(datum.value, '%Y')",
                "labelAlign": {"condition": {"test": "year(datum.value) == 1998", "value": "left"}, "value": "center"},
                "gridOpacity": {"condition": {"test": "year(datum.value) == 1998", "value": 0}, "value": 1},
                "tickOpacity": {"condition": {"test": "year(datum.value) == 1998", "value": 0}, "value": 1},
                "values": [{"year": 1998, "month": 7, "date": 1}, {"year": 2001}, {"year": 2004}, {"year": 2007}, {"year": 2009}, {"year": 2011}, {"year": 2013}, {"year": 2015}, {"year": 2017}, {"year": 2019}, {"year": 2021}]}},
            "y": {"field": "r", "type": "quantitative", "title": null}
          }
        }
      ]
    }
  ]
}
